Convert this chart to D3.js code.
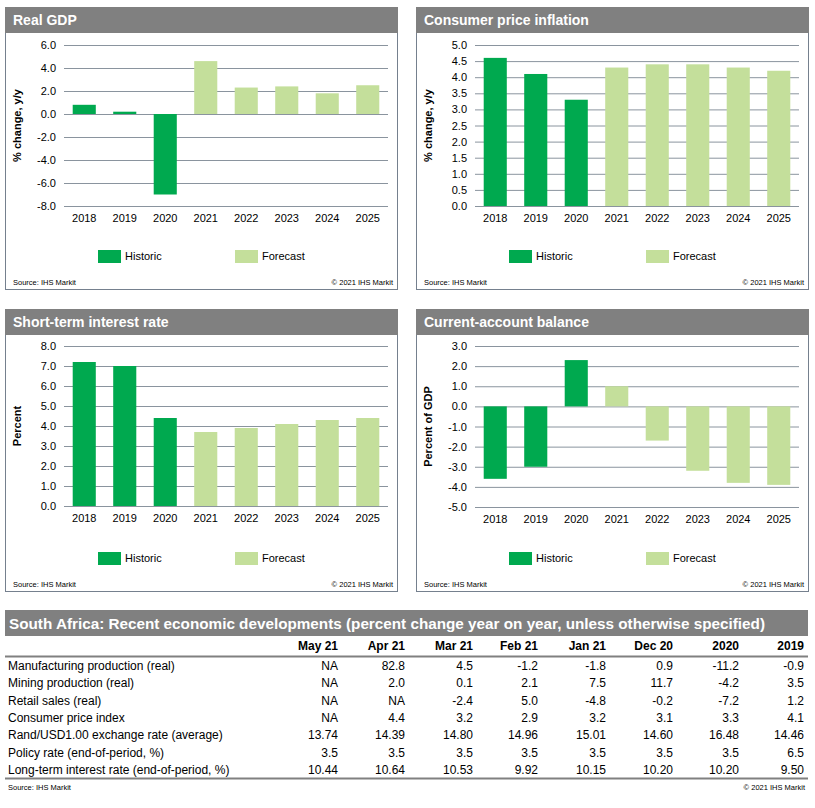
<!DOCTYPE html>
<html>
<head>
<meta charset="utf-8">
<script src="https://cdn.jsdelivr.net/npm/d3@7"></script>
<style>
  body { margin: 0; background: #fff; }
  svg { display: block; font-family: "Liberation Sans", Arial, sans-serif; }
</style>
</head>
<body>
<svg id="chart" width="815" height="808"></svg>
<script>

// chart data
var years  = ["2018", "2019", "2020", "2021", "2022", "2023", "2024", "2025"];
var phase  = ["Historic", "Historic", "Historic", "Forecast", "Forecast", "Forecast", "Forecast", "Forecast"];

var gdpValues  = [0.8, 0.2, -7.0, 4.6, 2.3, 2.4, 1.8, 2.5];
var cpiValues  = [4.6, 4.1, 3.3, 4.3, 4.4, 4.4, 4.3, 4.2];
var rateValues = [7.2, 7.0, 4.4, 3.7, 3.9, 4.1, 4.3, 4.4];
var cabValues  = [-3.6, -3.0, 2.3, 1.0, -1.7, -3.2, -3.8, -3.9];

var gdpTicks  = [-8, -6, -4, -2, 0, 2, 4, 6];
var cpiTicks  = [0, 0.5, 1, 1.5, 2, 2.5, 3, 3.5, 4, 4.5, 5];
var rateTicks = [0, 1, 2, 3, 4, 5, 6, 7, 8];
var cabTicks  = [-5, -4, -3, -2, -1, 0, 1, 2, 3];

var legendLabels = ["Historic", "Forecast"];

// table data
var tableTitle = "South Africa: Recent economic developments (percent change year on year, unless otherwise specified)";
var tableCols  = ["May 21", "Apr 21", "Mar 21", "Feb 21", "Jan 21", "Dec 20", "2020", "2019"];
var tableRows  = [
	"Manufacturing production (real)",
	"Mining production (real)",
	"Retail sales (real)",
	"Consumer price index",
	"Rand/USD1.00 exchange rate (average)",
	"Policy rate (end-of-period, %)",
	"Long-term interest rate (end-of-period, %)"
];
var tableValues = [
	["NA", "82.8", "4.5", "-1.2", "-1.8", "0.9", "-11.2", "-0.9"],
	["NA", "2.0", "0.1", "2.1", "7.5", "11.7", "-4.2", "3.5"],
	["NA", "NA", "-2.4", "5.0", "-4.8", "-0.2", "-7.2", "1.2"],
	["NA", "4.4", "3.2", "2.9", "3.2", "3.1", "3.3", "4.1"],
	["13.74", "14.39", "14.80", "14.96", "15.01", "14.60", "16.48", "14.46"],
	["3.5", "3.5", "3.5", "3.5", "3.5", "3.5", "3.5", "6.5"],
	["10.44", "10.64", "10.53", "9.92", "10.15", "10.20", "10.20", "9.50"]
];

var HIST_COLOR  = "#00a94f";
var FCST_COLOR  = "#c4df9b";
var HEAD_GRAY   = "#808080";
var GRID_COLOR  = "#8a949e";
var BORDER_COLOR = "#75808e";

var svg = d3.select("#chart");

var colour = d3.scaleOrdinal()
	.domain(legendLabels)
	.range([HIST_COLOR, FCST_COLOR]);

// plain hyphen for negatives, like the original
function fmt(d) {
	return d.toFixed(1);
}

function drawPanel(px, py, title, yLabel, values, ticks, top, bottom) {

	var W = 392, H = 282;
	var g = svg.append("g").attr("transform", "translate(" + px + "," + py + ")");

	// frame + header
	g.append("rect")
		.attr("x", 0.5).attr("y", 0.5)
		.attr("width", W).attr("height", H)
		.attr("fill", "#fff")
		.attr("stroke", BORDER_COLOR);

	g.append("rect")
		.attr("x", 0).attr("y", 0)
		.attr("width", W + 1).attr("height", 26)
		.attr("fill", HEAD_GRAY);

	g.append("text")
		.attr("x", 8).attr("y", 18)
		.attr("fill", "#fff")
		.attr("font-size", 14)
		.attr("font-weight", "bold")
		.text(title);

	var left = 59, right = 383;

	var x = d3.scaleBand()
		.domain(years)
		.range([left, right])
		.paddingInner(0.43)
		.paddingOuter(0.215);

	var y = d3.scaleLinear()
		.domain(d3.extent(ticks))
		.range([bottom, top]);

	// gridlines + tick labels
	var yAxis = g.append("g")
		.attr("transform", "translate(" + left + ",0)")
		.call(d3.axisLeft(y)
			.tickValues(ticks)
			.tickSize(-(right - left))
			.tickPadding(8)
			.tickFormat(fmt));

	yAxis.select(".domain").remove();
	yAxis.selectAll("line").attr("stroke", GRID_COLOR).attr("stroke-width", 1);
	yAxis.selectAll("text")
		.attr("font-size", 11)
		.attr("fill", "#000")
		.attr("font-family", "Liberation Sans, Arial, sans-serif");

	// bars
	g.selectAll("rect.bar")
		.data(values)
		.enter()
		.append("rect")
		.attr("class", "bar")
		.attr("x", function(d, i) { return x(years[i]); })
		.attr("width", x.bandwidth())
		.attr("y", function(d) { return y(Math.max(0, d)); })
		.attr("height", function(d) { return Math.abs(y(d) - y(0)); })
		.attr("fill", function(d, i) { return colour(phase[i]); });

	// x labels
	var xAxis = g.append("g")
		.attr("transform", "translate(0," + bottom + ")")
		.call(d3.axisBottom(x).tickSize(0).tickPadding(8));

	xAxis.select(".domain").remove();
	xAxis.selectAll("text")
		.attr("font-size", 11)
		.attr("fill", "#000")
		.attr("font-family", "Liberation Sans, Arial, sans-serif");

	// y title
	g.append("text")
		.attr("transform", "translate(16," + ((top + bottom) / 2) + ") rotate(-90)")
		.attr("text-anchor", "middle")
		.attr("font-size", 11)
		.attr("font-weight", "bold")
		.text(yLabel);

	// legend
	var legendX = [93, 230];
	legendLabels.forEach(function(lbl, i) {

		g.append("rect")
			.attr("x", legendX[i]).attr("y", 243)
			.attr("width", 23).attr("height", 13)
			.attr("fill", colour(lbl));

		g.append("text")
			.attr("x", legendX[i] + 27).attr("y", 253)
			.attr("font-size", 11)
			.text(lbl);
	});

	// footer
	g.append("text")
		.attr("x", 8).attr("y", 278)
		.attr("font-size", 7.5)
		.text("Source: IHS Markit");

	g.append("text")
		.attr("x", W - 4).attr("y", 278)
		.attr("text-anchor", "end")
		.attr("font-size", 7.5)
		.text("\u00a9 2021 IHS Markit");
}

drawPanel(5, 7, "Real GDP", "% change, y/y", gdpValues, gdpTicks, 38, 199);
drawPanel(416, 7, "Consumer price inflation", "% change, y/y", cpiValues, cpiTicks, 38, 199);
drawPanel(5, 309, "Short-term interest rate", "Percent", rateValues, rateTicks, 37, 197);
drawPanel(416, 309, "Current-account balance", "Percent of GDP", cabValues, cabTicks, 37, 198);

// ---- table ----
var tbl = svg.append("g");

tbl.append("rect")
	.attr("x", 5).attr("y", 610)
	.attr("width", 803).attr("height", 26)
	.attr("fill", HEAD_GRAY);

tbl.append("text")
	.attr("x", 9).attr("y", 629)
	.attr("fill", "#fff")
	.attr("font-size", 15)
	.attr("font-weight", "bold")
	.attr("textLength", 756)
	.attr("lengthAdjust", "spacingAndGlyphs")
	.text(tableTitle);

var colRight = [338, 405, 473, 538, 606, 673, 739, 804];

var colX = d3.scaleOrdinal().domain(tableCols).range(colRight);

tbl.selectAll("text.colhead")
	.data(tableCols)
	.enter()
	.append("text")
	.attr("class", "colhead")
	.attr("x", function(d) { return colX(d); })
	.attr("y", 650)
	.attr("text-anchor", "end")
	.attr("font-size", 12)
	.attr("font-weight", "bold")
	.text(function(d) { return d; });

tbl.append("line")
	.attr("x1", 5).attr("x2", 808)
	.attr("y1", 656.5).attr("y2", 656.5)
	.attr("stroke", "#808080").attr("stroke-width", 2);

var rowY = d3.scalePoint()
	.domain(tableRows)
	.range([670, 774]);

var rows = tbl.selectAll("g.row")
	.data(tableRows)
	.enter()
	.append("g")
	.attr("class", "row")
	.attr("transform", function(d) { return "translate(0," + rowY(d) + ")"; });

rows.append("text")
	.attr("x", 8)
	.attr("font-size", 12)
	.text(function(d) { return d; });

rows.each(function(d, r) {

	d3.select(this).selectAll("text.val")
		.data(tableValues[r])
		.enter()
		.append("text")
		.attr("class", "val")
		.attr("x", function(v, c) { return colRight[c]; })
		.attr("text-anchor", "end")
		.attr("font-size", 12)
		.text(function(v) { return v; });
});

tbl.append("line")
	.attr("x1", 5).attr("x2", 808)
	.attr("y1", 778.5).attr("y2", 778.5)
	.attr("stroke", "#808080").attr("stroke-width", 2);

tbl.append("text")
	.attr("x", 8).attr("y", 790)
	.attr("font-size", 7.5)
	.text("Source: IHS Markit");

tbl.append("text")
	.attr("x", 805).attr("y", 790)
	.attr("text-anchor", "end")
	.attr("font-size", 7.5)
	.text("\u00a9 2021 IHS Markit");

</script>
</body>
</html>
